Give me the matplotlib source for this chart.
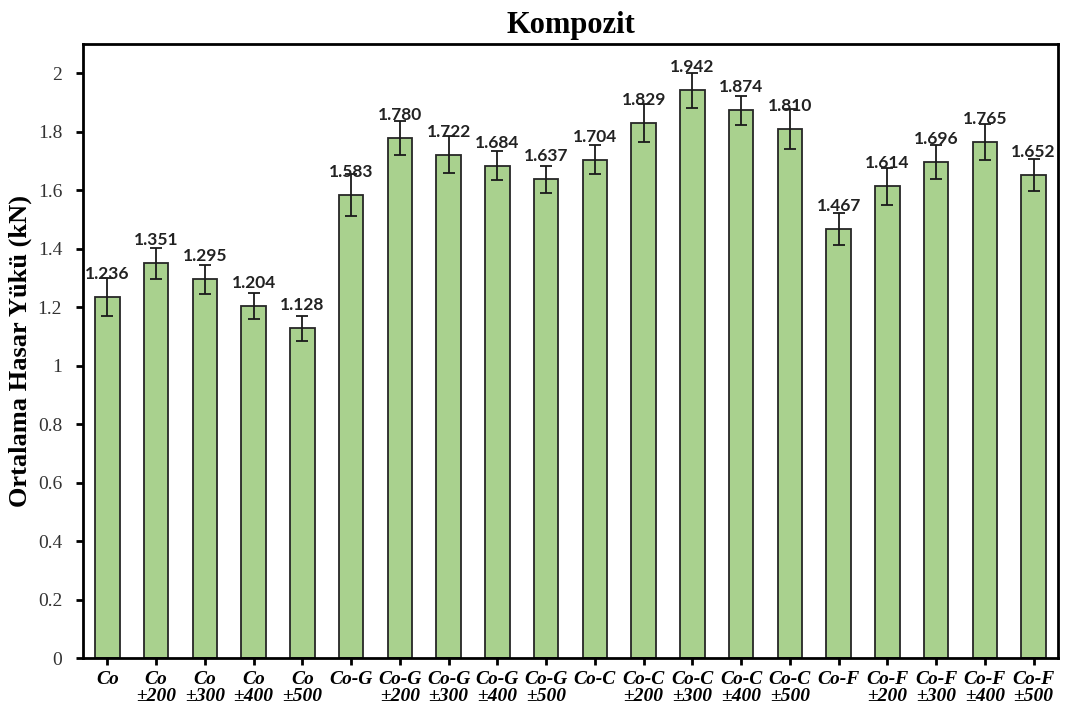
from matplotlib import pyplot as plt
from matplotlib.ticker import FuncFormatter

# Kompozit - average failure load per sample
labels = ["Co", "Co\n±200", "Co\n±300", "Co\n±400", "Co\n±500",
          "Co-G", "Co-G\n±200", "Co-G\n±300", "Co-G\n±400", "Co-G\n±500",
          "Co-C", "Co-C\n±200", "Co-C\n±300", "Co-C\n±400", "Co-C\n±500",
          "Co-F", "Co-F\n±200", "Co-F\n±300", "Co-F\n±400", "Co-F\n±500"]
values = [1.236, 1.351, 1.295, 1.204, 1.128,
          1.583, 1.780, 1.722, 1.684, 1.637,
          1.704, 1.829, 1.942, 1.874, 1.810,
          1.467, 1.614, 1.696, 1.765, 1.652]
errors = [0.065, 0.053, 0.050, 0.045, 0.042,
          0.072, 0.058, 0.062, 0.050, 0.045,
          0.050, 0.065, 0.060, 0.050, 0.068,
          0.055, 0.063, 0.058, 0.063, 0.056]

serif = "Liberation Serif"

fig = plt.figure(figsize=(10.73, 7.11), dpi=100)
ax = fig.add_axes([0.0774, 0.0745, 0.9086, 0.8635])

x = range(len(values))
ax.bar(x, values, 0.5, color="#A9D18E", edgecolor="#262626", linewidth=1.3,
       zorder=2)
ax.errorbar(x, values, yerr=errors, fmt="none", ecolor="#1a1a1a",
            elinewidth=1.3, capsize=4.5, capthick=1.3, zorder=3)

# value labels above each bar
for i, v in enumerate(values):
    ax.annotate("%.3f" % v, (i, v), xytext=(0, 13), textcoords="offset points",
                ha="center", va="baseline", fontsize=12.5, fontweight="bold",
                family="Lato", color="#222222", zorder=4)

ax.set_xlim(-0.5, len(values) - 0.5)
ax.set_ylim(0, 2.1)
ax.set_yticks([i * 0.2 for i in range(11)])
ax.yaxis.set_major_formatter(FuncFormatter(lambda v, p: "%g" % round(v, 1)))
ax.set_xticks(list(x))
ax.set_xticklabels(labels, fontsize=14, fontstyle="italic", fontweight="bold",
                   family=serif, linespacing=1.0)
for t in ax.get_yticklabels():
    t.set_family(serif)
    t.set_fontsize(14)
    t.set_color("#333333")

for s in ax.spines.values():
    s.set_linewidth(2)
    s.set_color("black")
ax.tick_params(axis="both", direction="out", length=5, width=2)
ax.tick_params(axis="x", pad=4)
ax.tick_params(axis="y", pad=10)

ax.set_title("Kompozit", fontsize=22, fontweight="bold", family=serif, pad=8)
ax.set_ylabel("Ortalama Hasar Yükü (kN)", fontsize=19, fontweight="bold",
              family=serif, labelpad=4)

plt.savefig("out.png", dpi=100)
